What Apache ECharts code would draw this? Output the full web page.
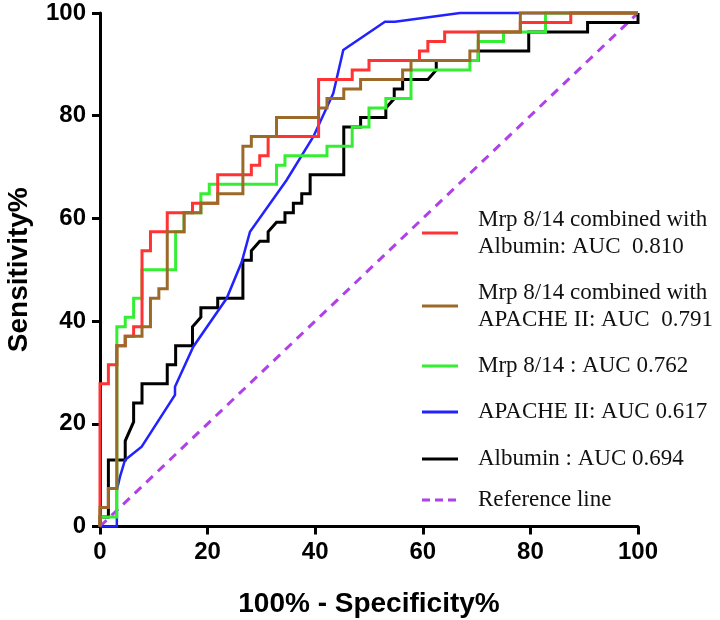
<!DOCTYPE html>
<html>
<head>
<meta charset="utf-8">
<script src="https://cdn.jsdelivr.net/npm/echarts@6/dist/echarts.min.js"></script>
<style>html,body{margin:0;padding:0;background:#fff;}#chart{width:720px;height:620px;}</style>
</head>
<body>
<div id="chart"></div>
<script>
// Axis ticks
const xTicks = [0, 20, 40, 60, 80, 100];
const yTicks = [0, 20, 40, 60, 80, 100];

// Series names (legend text)
const seriesNames = [
  'Mrp 8/14 combined with\nAlbumin: AUC  0.810',
  'Mrp 8/14 combined with\nAPACHE II: AUC  0.791',
  'Mrp 8/14 : AUC 0.762',
  'APACHE II: AUC 0.617',
  'Albumin : AUC 0.694',
  'Reference line'
];

// ROC points [100% - Specificity%, Sensitivity%]
const mrpAlbumin = [[0,0],[0,27.78],[1.56,27.78],[1.56,31.48],[3.13,31.48],[3.13,35.19],[4.69,35.19],[4.69,37.04],[6.25,37.04],[6.25,38.89],[7.81,38.89],[7.81,53.70],[9.38,53.70],[9.38,57.41],[12.5,57.41],[12.5,61.11],[17.19,61.11],[17.19,62.96],[21.88,62.96],[21.88,68.52],[28.13,68.52],[28.13,70.37],[29.69,70.37],[29.69,72.22],[31.25,72.22],[31.25,75.93],[40.63,75.93],[40.63,87.04],[46.88,87.04],[46.88,88.89],[50,88.89],[50,90.74],[59.38,90.74],[59.38,92.59],[60.94,92.59],[60.94,94.44],[64.06,94.44],[64.06,96.30],[78.13,96.30],[78.13,98.15],[87.5,98.15],[87.5,100],[100,100]];

const mrpApache = [[0,0],[0,3.70],[1.56,3.70],[1.56,7.41],[3.13,7.41],[3.13,35.19],[4.69,35.19],[4.69,37.04],[7.81,37.04],[7.81,38.89],[9.38,38.89],[9.38,44.44],[10.94,44.44],[10.94,46.30],[12.5,46.30],[12.5,57.41],[15.63,57.41],[15.63,61.11],[18.75,61.11],[18.75,62.96],[21.88,62.96],[21.88,64.81],[26.56,64.81],[26.56,74.07],[28.13,74.07],[28.13,75.93],[32.81,75.93],[32.81,79.63],[40.63,79.63],[40.63,81.48],[42.19,81.48],[42.19,83.33],[45.31,83.33],[45.31,85.19],[48.44,85.19],[48.44,87.04],[56.25,87.04],[56.25,88.89],[57.81,88.89],[57.81,90.74],[68.75,90.74],[68.75,92.59],[70.31,92.59],[70.31,96.30],[78.13,96.30],[78.13,100],[100,100]];

const mrp = [[0,0],[0,1.85],[3.13,1.85],[3.13,38.89],[4.69,38.89],[4.69,40.74],[6.25,40.74],[6.25,44.44],[7.81,44.44],[7.81,50],[14.06,50],[14.06,57.41],[15.63,57.41],[15.63,61.11],[18.75,61.11],[18.75,64.81],[20.31,64.81],[20.31,66.67],[32.81,66.67],[32.81,70.37],[34.38,70.37],[34.38,72.22],[42.19,72.22],[42.19,74.07],[46.88,74.07],[46.88,77.78],[50,77.78],[50,81.48],[53.13,81.48],[53.13,83.33],[57.81,83.33],[57.81,88.89],[68.75,88.89],[68.75,90.74],[70.31,90.74],[70.31,94.44],[75,94.44],[75,96.30],[82.81,96.30],[82.81,100],[100,100]];

const apache = [[0,0],[3.13,0],[3.13,7.11],[3.72,9.70],[4.65,12.95],[7.75,15.54],[13.94,25.61],[13.94,27.23],[17.34,35.01],[23.55,44.44],[26.34,51.51],[27.88,57.41],[34.70,67.48],[39.65,75.91],[43.36,84.36],[45.22,92.79],[52.97,98.31],[54.83,98.31],[66.91,100],[100,100]];

const albumin = [[0,0],[0,1.85],[1.56,1.85],[1.56,12.96],[4.69,12.96],[4.69,16.67],[6.25,20.37],[6.25,24.07],[7.81,24.07],[7.81,27.78],[12.5,27.78],[12.5,31.48],[14.06,31.48],[14.06,35.19],[17.19,35.19],[17.19,38.89],[18.75,40.74],[18.75,42.59],[21.88,42.59],[21.88,44.44],[26.56,44.44],[26.56,51.85],[28.13,51.85],[28.13,53.70],[29.69,55.56],[31.25,55.56],[31.25,57.41],[32.81,59.26],[34.38,59.26],[34.38,61.11],[35.94,61.11],[35.94,62.96],[37.5,62.96],[37.5,64.81],[39.06,64.81],[39.06,68.52],[45.31,68.52],[45.31,77.78],[48.44,77.78],[48.44,79.63],[53.13,79.63],[53.13,81.48],[54.69,83.33],[54.69,85.19],[56.25,85.19],[56.25,87.04],[60.94,87.04],[62.5,88.89],[62.5,90.74],[70.31,90.74],[70.31,92.59],[79.69,92.59],[79.69,96.30],[90.63,96.30],[90.63,98.15],[100,98.15],[100,100]];

const reference = [[0,0],[100,100]];

const colors = ['#ff3333', '#9c6a28', '#33ee33', '#2222ff', '#000000', '#b040e8'];
const seriesData = [mrpAlbumin, mrpApache, mrp, apache, albumin, reference];
const drawOrder = [5, 4, 3, 2, 0, 1];

const chart = echarts.init(document.getElementById('chart'), null, {renderer: 'canvas'});

const series = drawOrder.map(function (i) {
  return {
    name: seriesNames[i],
    type: 'line',
    data: seriesData[i],
    showSymbol: false,
    symbol: 'none',
    clip: false,
    animation: false,
    z: 3 + drawOrder.indexOf(i),
    lineStyle: {
      color: colors[i],
      width: i === 3 ? 2.5 : 3,
      type: i === 5 ? [9, 7] : 'solid',
      cap: 'butt',
      join: 'miter'
    }
  };
});

// legend built as graphic elements
const legendY = [233, 306, 366, 412, 459, 500];
const graphics = [];
seriesNames.forEach(function (name, i) {
  graphics.push({
    type: 'line',
    shape: {x1: 422, y1: legendY[i], x2: 458, y2: legendY[i]},
    style: {stroke: colors[i], lineWidth: 3, lineDash: i === 5 ? [8, 5] : null},
    silent: true
  });
  graphics.push({
    type: 'text',
    x: 478,
    y: legendY[i],
    style: {
      text: name,
      font: '23px "Liberation Serif", "Times New Roman", serif',
      fill: '#111',
      verticalAlign: 'middle',
      align: 'left',
      lineHeight: 27
    },
    silent: true
  });
});

const axisCommon = {
  type: 'value',
  min: 0,
  max: 100,
  interval: 20,
  splitLine: {show: false},
  axisLine: {show: true, lineStyle: {color: '#000', width: 3}},
  axisTick: {show: true, length: 8, lineStyle: {color: '#000', width: 3}},
  axisLabel: {
    color: '#000',
    fontFamily: '"Liberation Sans", Arial, sans-serif',
    fontWeight: 'bold',
    fontSize: 24,
    margin: 14
  },
  nameLocation: 'middle',
  nameTextStyle: {
    color: '#000',
    fontFamily: '"Liberation Sans", Arial, sans-serif',
    fontWeight: 'bold',
    fontSize: 28
  }
};

chart.setOption({
  animation: false,
  backgroundColor: '#fff',
  grid: {left: 100, right: 82, top: 13, bottom: 93.5, containLabel: false, outerBoundsMode: 'none'},
  xAxis: Object.assign({}, axisCommon, {
    name: '100% - Specificity%',
    nameGap: 64,
    axisLabel: Object.assign({}, axisCommon.axisLabel, {
      formatter: function (v) { return xTicks.indexOf(v) >= 0 ? String(v) : ''; }
    })
  }),
  yAxis: Object.assign({}, axisCommon, {
    name: 'Sensitivity%',
    nameGap: 67,
    nameRotate: 90,
    axisLabel: Object.assign({}, axisCommon.axisLabel, {
      formatter: function (v) { return yTicks.indexOf(v) >= 0 ? String(v) : ''; }
    })
  }),
  series: series,
  graphic: graphics
});
</script>
</body>
</html>
